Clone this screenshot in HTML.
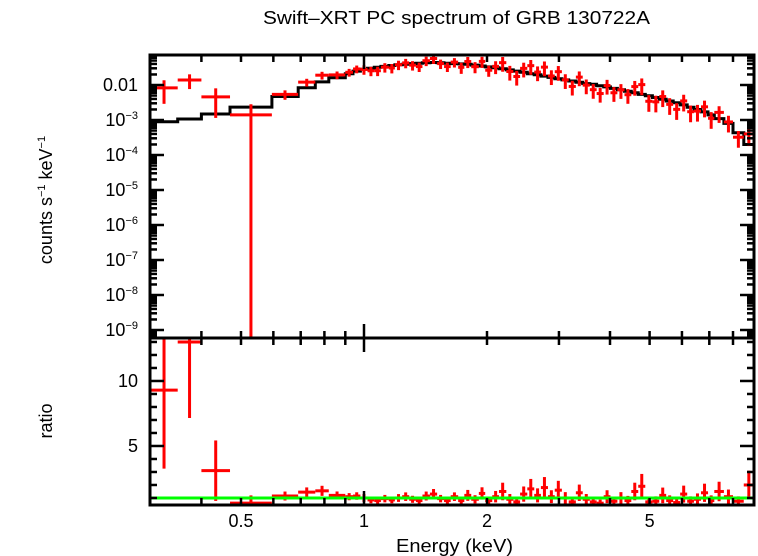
<!DOCTYPE html>
<html><head><meta charset="utf-8"><style>
html,body{margin:0;padding:0;background:#fff;}
svg{display:block;font-family:"Liberation Sans",Arial,sans-serif;}
</style></head><body>
<svg id="chart" width="758" height="556" viewBox="0 0 758 556" xmlns="http://www.w3.org/2000/svg">
<text x="263" y="24" font-size="18" textLength="387" lengthAdjust="spacingAndGlyphs">Swift–XRT PC spectrum of GRB 130722A</text>
<text transform="translate(52,200) rotate(-90)" font-size="18" text-anchor="middle">counts s<tspan font-size="11" dy="-7">−1</tspan><tspan dy="7"> keV</tspan><tspan font-size="11" dy="-7">−1</tspan></text>
<text transform="translate(52,421) rotate(-90)" font-size="18" text-anchor="middle">ratio</text>
<text x="396" y="552" font-size="18" textLength="117" lengthAdjust="spacingAndGlyphs">Energy (keV)</text>
<g id="gTop"></g>
<g id="gBot"></g>
</svg>
<script>
// bin lower edges (keV); last entry is upper edge of final bin
const binEdges = [0.30,0.35,0.40,0.47,0.595,0.69,0.76,0.82,0.90,0.94,0.98,1.02,1.06,1.10,1.15,1.19,1.24,1.29,1.34,1.39,1.45,1.51,1.57,1.63,1.70,1.76,1.83,1.91,1.98,2.06,2.14,2.23,2.32,2.41,2.51,2.61,2.71,2.82,2.93,3.05,3.17,3.30,3.43,3.57,3.71,3.86,4.01,4.17,4.34,4.51,4.69,4.88,5.08,5.28,5.49,5.71,5.94,6.18,6.42,6.68,6.95,7.2,7.6,8.0,8.5,9.0];
const modelVals = [8.9e-4,1.07e-3,1.48e-3,2.34e-3,4.7e-3,8.3e-3,1.23e-2,1.62e-2,2.1e-2,2.5e-2,2.8e-2,3.0e-2,3.2e-2,3.4e-2,3.6e-2,3.8e-2,3.9e-2,4.1e-2,4.2e-2,4.3e-2,4.4e-2,4.3e-2,4.2e-2,4.1e-2,4.0e-2,3.9e-2,3.7e-2,3.5e-2,3.3e-2,3.1e-2,2.9e-2,2.7e-2,2.5e-2,2.3e-2,2.1e-2,1.95e-2,1.8e-2,1.65e-2,1.5e-2,1.4e-2,1.3e-2,1.2e-2,1.1e-2,1.05e-2,9.5e-3,8.8e-3,8.0e-3,7.3e-3,6.6e-3,6.0e-3,5.4e-3,4.9e-3,4.4e-3,3.9e-3,3.5e-3,3.1e-3,2.7e-3,2.3e-3,2.0e-3,1.7e-3,1.4e-3,1.1e-3,8.0e-4,4.3e-4,2.0e-4];
const ratioVals = [9.3,13.0,3.1,0.6,1.15,1.45,1.55,1.2,1.1,1.15,1.0,0.85,0.8,0.95,0.85,1.0,1.1,0.9,0.8,1.15,1.3,0.95,0.8,1.1,0.8,1.2,0.9,1.35,0.8,1.1,1.5,0.9,0.7,1.3,1.7,1.2,1.8,1.1,1.6,1.0,0.7,1.4,0.9,0.7,0.6,1.1,0.75,1.0,0.8,1.5,1.9,0.7,0.75,1.2,0.8,0.65,1.3,0.75,0.9,1.4,0.8,1.5,1.1,0.75,2.0];
const relErr = [0.65,0.45,0.75,1.0,0.3,0.25,0.25,0.25,0.25,0.25,0.3,0.3,0.3,0.3,0.3,0.3,0.3,0.3,0.3,0.3,0.3,0.3,0.3,0.3,0.35,0.35,0.35,0.35,0.35,0.4,0.45,0.45,0.45,0.45,0.45,0.45,0.45,0.45,0.45,0.45,0.45,0.45,0.45,0.45,0.45,0.45,0.45,0.45,0.45,0.45,0.5,0.5,0.5,0.5,0.5,0.5,0.5,0.5,0.5,0.5,0.5,0.5,0.5,0.5,0.55];
const xTickLabels = [0.5,1,2,5];
const yTopDecades = [-2,-3,-4,-5,-6,-7,-8,-9];
const yBotLabels = [5,10];

const NS="http://www.w3.org/2000/svg";
const L=150,R=754,T=55,M=338,B=505;
const xs=e=>364+408.6*Math.log10(e);
const yTop=v=>85-35*(Math.log10(v)+2);
const yBot=r=>505-13*(r-0.46);
const clamp=(v,a,b)=>Math.max(a,Math.min(b,v));
function el(parent,tag,attrs){const e=document.createElementNS(NS,tag);for(const k in attrs)e.setAttribute(k,attrs[k]);parent.appendChild(e);return e;}
const gT=document.getElementById('gTop'), gB=document.getElementById('gBot');

let d='';
for(let i=0;i<modelVals.length;i++){
  const x0=xs(binEdges[i]),x1=xs(binEdges[i+1]),y=yTop(modelVals[i]);
  d+=(i===0?'M':'L')+x0.toFixed(1)+','+y.toFixed(1)+'L'+x1.toFixed(1)+','+y.toFixed(1);
}
const mp=el(gT,'path',{d:d,fill:'none',stroke:'#000','stroke-width':3});



for(let i=0;i<ratioVals.length;i++){
  const x0=xs(binEdges[i]),x1=xs(binEdges[i+1]),xc=(x0+x1)/2;
  const r=ratioVals[i],m=modelVals[i],c=r*m,e=relErr[i];
  const g=el(gT,'g',{stroke:'#f00','stroke-width':3});
  
  
  const yc=yTop(c),yhi=yTop(c*(1+e)),ylo=e>=1?M:yTop(c*(1-e));
  el(g,'line',{x1:x0,x2:x1,y1:yc,y2:yc});
  el(g,'line',{x1:xc,x2:xc,y1:clamp(yhi,T,M),y2:clamp(ylo,T,M)});
  const g2=el(gB,'g',{stroke:'#f00','stroke-width':3});
  
  
  const rc=yBot(r);
  el(g2,'line',{x1:x0,x2:x1,y1:clamp(rc,M,B),y2:clamp(rc,M,B)});
  el(g2,'line',{x1:xc,x2:xc,y1:clamp(yBot(r*(1+e)),M,B),y2:clamp(yBot(r*(1-e)),M,B)});
}
const ul=el(gB,'line',{x1:L,x2:R,y1:yBot(1),y2:yBot(1),stroke:'#0f0','stroke-width':3});



const f1=el(gT,'rect',{x:L,y:T,width:R-L,height:M-T,fill:'none',stroke:'#000','stroke-width':3});


const f2=el(gB,'rect',{x:L,y:M,width:R-L,height:B-M,fill:'none',stroke:'#000','stroke-width':3});



const ax=el(document.getElementById('chart'),'g',{stroke:'#000','stroke-width':2.5});


const minorE=[0.4,0.5,0.6,0.7,0.8,0.9,2,3,4,5,6,7,8,9];
for(const e of minorE){const x=xs(e);
  for(const [y,s] of [[T,1],[M,-1],[M,1],[B,-1]]) el(ax,'line',{x1:x,x2:x,y1:y,y2:y+s*7});}
{const x=xs(1);for(const [y,s] of [[T,1],[M,-1],[M,1],[B,-1]]) el(ax,'line',{x1:x,x2:x,y1:y,y2:y+s*14});}
for(const v of xTickLabels){
  const t=el(document.getElementById('chart'),'text',{x:xs(v),y:527,'font-size':18,'text-anchor':'middle'});
  t.textContent=String(v);
  
  
}
for(let dec=-10;dec<=-1;dec++){
  for(let k=1;k<10;k++){
    const v=k*Math.pow(10,dec);const y=yTop(v);
    if(y<T||y>M)continue;
    const len=k===1?14:7;
    el(ax,'line',{x1:L,x2:L+len,y1:y,y2:y});
    el(ax,'line',{x1:R,x2:R-len,y1:y,y2:y});
  }
}
for(const dec of yTopDecades){
  const y=yTop(Math.pow(10,dec));
  const t=el(document.getElementById('chart'),'text',{x:138,y:y+6,'font-size':18,'text-anchor':'end'});
  
  
  if(dec===-2){t.textContent='0.01';}
  else{t.innerHTML='10<tspan font-size="11" dy="-7">−'+(-dec)+'</tspan>';}
}
for(let r=1;r<=13;r++){
  const y=yBot(r);const len=(r%5===0)?14:7;
  el(ax,'line',{x1:L,x2:L+len,y1:y,y2:y});
  el(ax,'line',{x1:R,x2:R-len,y1:y,y2:y});
}
for(const v of yBotLabels){
  const t=el(document.getElementById('chart'),'text',{x:138,y:yBot(v)+6,'font-size':18,'text-anchor':'end'});
  t.textContent=String(v);
  
  
}
</script>
</body></html>
